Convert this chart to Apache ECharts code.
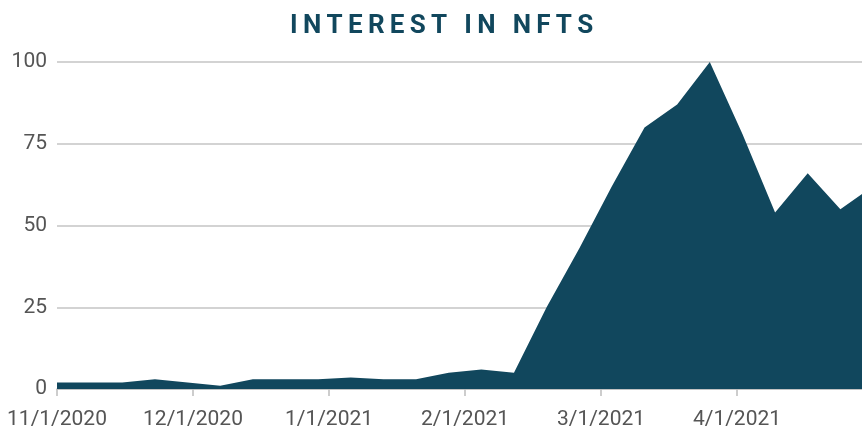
<!DOCTYPE html>
<html>
<head>
<meta charset="utf-8">
<script src="https://cdn.jsdelivr.net/npm/echarts@6/dist/echarts.min.js"></script>
<style>
  html, body { margin: 0; padding: 0; background: #fff; overflow: hidden; }
  /* the plot runs a little past the right edge (the picture is cropped there) */
  #chart { width: 874px; height: 430px; }
</style>
</head>
<body>
<div id="chart"></div>
<script>
// weekly points, Google Trends style index (0-100)
const weeks = ['11/1','11/8','11/15','11/22','11/29','12/6','12/13','12/20','12/27',
  '1/3','1/10','1/17','1/24','1/31','2/7','2/14','2/21','2/28','3/7','3/14','3/21',
  '3/28','4/4','4/11','4/18','4/25'];
const interest = [2, 2, 2, 3, 2, 1, 3, 3, 3, 3.5, 3, 3, 5, 6, 5, 25, 43, 62, 80, 87, 100,
  78, 54, 66, 55, 62];
const monthLabels = ['11/1/2020', '12/1/2020', '1/1/2021', '2/1/2021', '3/1/2021', '4/1/2021'];
const yTicks = [0, 25, 50, 75, 100];

const titleText = 'INTEREST IN NFTS';
const teal = '#11475d';

const chart = echarts.init(document.getElementById('chart'));
chart.setOption({
  animation: false,
  title: {
    text: titleText.split('').join('\u2009'),
    left: 285,
    top: 8,
    textStyle: { fontFamily: 'Roboto', fontWeight: 'bold', fontSize: 26, color: teal }
  },
  grid: { left: 57, right: 1, top: 62, bottom: 41 },
  xAxis: [{
    type: 'category',
    data: weeks,
    boundaryGap: false,
    position: 'top',
    show: false
  }, {
    type: 'value',
    position: 'bottom',
    min: 0,
    max: 6,
    interval: 1,
    axisLine: { show: true, lineStyle: { color: '#bdbdbd', width: 1.5 } },
    axisTick: { show: true, length: 7, lineStyle: { color: '#bdbdbd', width: 1.5 } },
    splitLine: { show: false },
    axisLabel: {
      margin: 20,
      fontFamily: 'Roboto',
      fontSize: 21,
      color: '#555',
      showMaxLabel: false,
      formatter: v => monthLabels[v] || ''
    }
  }],
  yAxis: {
    type: 'value',
    min: yTicks[0],
    max: yTicks[yTicks.length - 1],
    interval: 25,
    axisLine: { show: false },
    axisTick: { show: false },
    splitLine: { lineStyle: { color: '#c4c4c4', width: 1.5 } },
    axisLabel: { margin: 10, fontFamily: 'Roboto', fontSize: 21, color: '#555' }
  },
  series: [{
    type: 'line',
    xAxisIndex: 0,
    data: interest,
    symbol: 'none',
    lineStyle: { width: 0 },
    areaStyle: { color: teal, opacity: 1 },
    z: 3
  }]
});
</script>
</body>
</html>
